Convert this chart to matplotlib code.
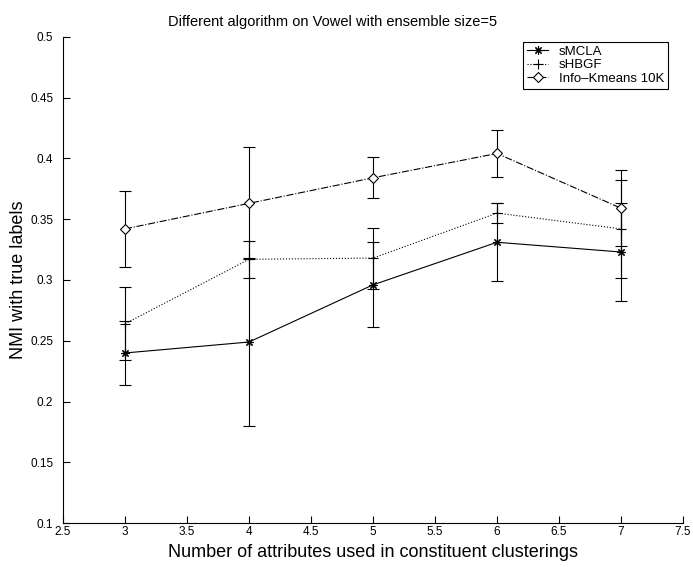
import numpy as np
import matplotlib
matplotlib.use('Agg')
import matplotlib.pyplot as plt

plt.rcParams['font.family'] = ['Liberation Sans', 'DejaVu Sans']

# number of attributes
n_attr = [3, 4, 5, 6, 7]

smcla = [0.240, 0.249, 0.296, 0.331, 0.323]
smcla_err = [0.026, 0.069, 0.035, 0.032, 0.040]

shbgf = [0.264, 0.317, 0.318, 0.355, 0.342]
shbgf_err = [0.030, 0.015, 0.025, 0.0085, 0.040]

info_km = [0.342, 0.363, 0.384, 0.404, 0.359]
info_km_err = [0.031, 0.046, 0.017, 0.019, 0.031]

xticks = [2.5, 3, 3.5, 4, 4.5, 5, 5.5, 6, 6.5, 7, 7.5]
yticks = [0.1, 0.15, 0.2, 0.25, 0.3, 0.35, 0.4, 0.45, 0.5]

fig = plt.figure(figsize=(6.93, 5.67), dpi=100)
ax = fig.add_axes([0.0909, 0.0771, 0.8947, 0.8582])

lw = 0.8
e1 = ax.errorbar(n_attr, smcla, yerr=smcla_err, color='k', ls='-', lw=lw,
                 marker=(8, 2, 0), ms=6, mew=0.8, capsize=4, elinewidth=lw,
                 capthick=lw)
e2 = ax.errorbar(n_attr, shbgf, yerr=shbgf_err, color='k', ls=':', lw=lw,
                 marker='+', ms=7, mew=0.8, capsize=4, elinewidth=lw,
                 capthick=lw)
e3 = ax.errorbar(n_attr, info_km, yerr=info_km_err, color='k', ls='-.', lw=lw,
                 marker='D', ms=5, mfc='white', mew=0.8, capsize=4,
                 elinewidth=lw, capthick=lw)

ax.set_xlim(2.5, 7.5)
ax.set_ylim(0.1, 0.5)
ax.set_xticks(xticks)
ax.set_xticklabels([('%g' % t) for t in xticks])
ax.set_yticks(yticks)
ax.set_yticklabels([('%g' % t) for t in yticks])
ax.tick_params(direction='in', length=5, width=0.8, labelsize=8.5)
ax.tick_params(axis='y', pad=7)
ax.tick_params(axis='x', pad=2)
ax.spines['top'].set_visible(False)
ax.spines['right'].set_visible(False)
for s in ['left', 'bottom']:
    ax.spines[s].set_linewidth(0.8)

ax.set_title('Different algorithm on Vowel with ensemble size=5',
             fontsize=10.5, x=0.434, pad=8)
ax.set_xlabel('Number of attributes used in constituent clusterings',
              fontsize=13, labelpad=4)
ax.set_ylabel('NMI with true labels', fontsize=13, labelpad=2)

leg = ax.legend([e1.lines[0], e2.lines[0], e3.lines[0]],
                ['sMCLA', 'sHBGF', 'Info\u2013Kmeans 10K'],
                loc='upper right', bbox_to_anchor=(0.976, 0.99),
                fontsize=9.5, frameon=True, fancybox=False, framealpha=1,
                edgecolor='k', borderpad=0.3, labelspacing=0.1,
                handlelength=1.6, handletextpad=0.8, borderaxespad=0)
leg.get_frame().set_linewidth(0.8)

fig.savefig('out.png', dpi=100)
